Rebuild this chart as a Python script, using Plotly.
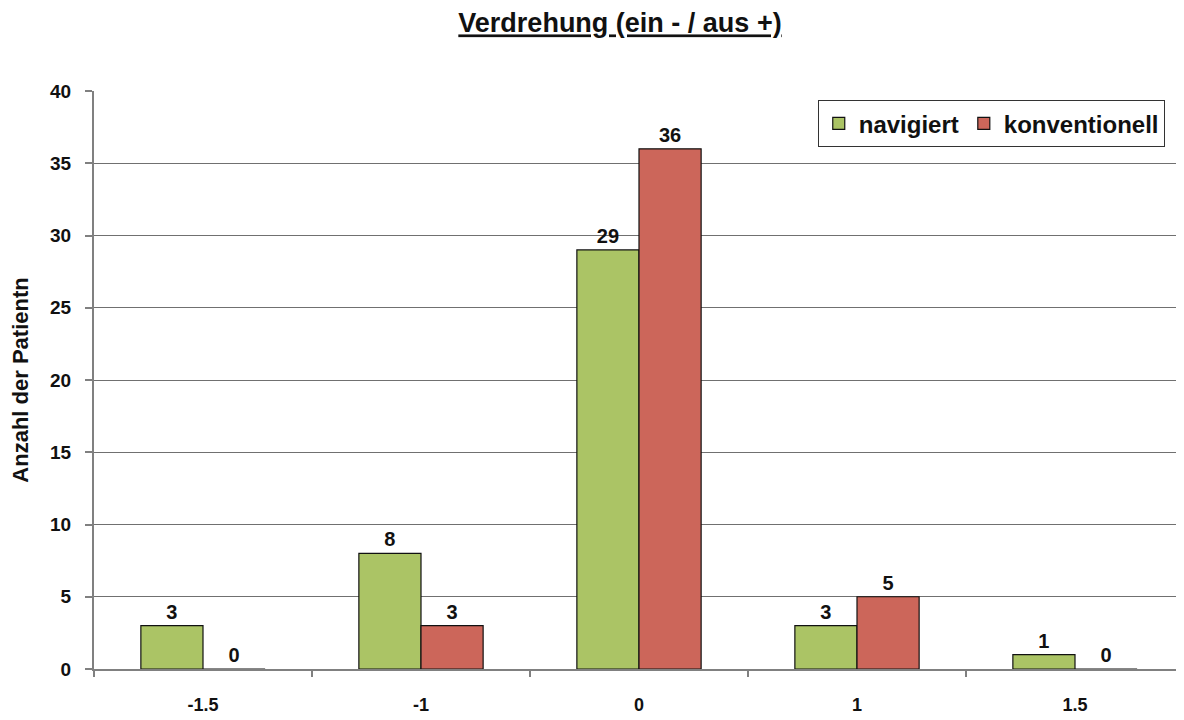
import plotly.graph_objects as go

categories = ["-1.5", "-1", "0", "1", "1.5"]
navigiert = [3, 8, 29, 3, 1]
konventionell = [0, 3, 36, 5, 0]
y_ticks = [0, 5, 10, 15, 20, 25, 30, 35, 40]

FONT = "Liberation Sans, Arial, sans-serif"

def bold(size):
    return dict(family=FONT, size=size, color="#111111", weight="bold")

# page body has an 8px margin; the figure is sized to fill the rest of the window
W, H = 1176, 712

fig = go.Figure()
fig.add_trace(go.Bar(
    x=categories, y=navigiert, name="navigiert",
    marker=dict(color="#ABC465", line=dict(color="#111111", width=1.2)),
    text=[str(v) for v in navigiert], textposition="outside",
    textfont=bold(20), cliponaxis=False,
))
fig.add_trace(go.Bar(
    x=categories, y=konventionell, name="konventionell",
    marker=dict(color="#CC665A", line=dict(color="#111111", width=1.2)),
    text=[str(v) for v in konventionell], textposition="outside",
    textfont=bold(20), cliponaxis=False,
))

fig.update_layout(
    width=W, height=H,
    margin=dict(l=86, r=0, t=83, b=51, autoexpand=False),
    paper_bgcolor="white", plot_bgcolor="white",
    font=dict(family=FONT, color="#111111"),
    barmode="group", bargap=0.43, bargroupgap=0,
    title=dict(text="<u>Verdrehung (ein - / aus +)</u>",
               x=612/W, xref="container", xanchor="center",
               y=1-15/H, yref="container", yanchor="middle",
               font=bold(27)),
    showlegend=True,
    legend=dict(x=0.664, y=0.984, xanchor="left", yanchor="top",
                orientation="h", bgcolor="white",
                bordercolor="#333333", borderwidth=1,
                font=bold(24),
                itemwidth=30, traceorder="normal"),
    xaxis=dict(
        type="category", showgrid=False, showline=True, automargin=False,
        linecolor="#808080", linewidth=2,
        ticks="outside", tickson="boundaries", ticklen=6, tickcolor="#808080", tickwidth=2,
        ticklabelstandoff=18,
        tickfont=bold(18),
    ),
    yaxis=dict(
        range=[0, 40], tickvals=y_ticks, showgrid=True, automargin=False,
        gridcolor="#707070", gridwidth=1.3,
        showline=True, linecolor="#808080", linewidth=2,
        zeroline=False,
        ticks="outside", ticklen=7, tickcolor="#808080", tickwidth=2,
        ticklabelstandoff=10,
        tickfont=bold(19),
        title=dict(text="Anzahl der Patientn", standoff=18,
                   font=bold(22)),
    ),
)

fig.write_html("out.html")
